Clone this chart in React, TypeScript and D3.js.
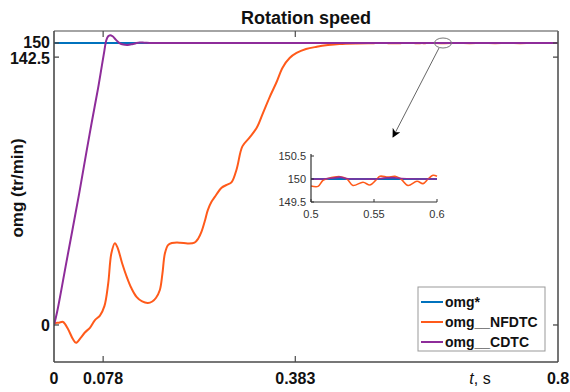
import React from "react";
import * as d3 from "d3";

const title = "Rotation speed";
const yLabel = "omg (tr/min)";
const xTicks = [0, 0.078, 0.383, 0.8];
const xTickLabels = ["0", "0.078", "0.383", "0.8"];
const yTicks = [0, 142.5, 150];
const yTickLabels = ["0", "142.5", "150"];
const seriesNames = ["omg*", "omg__NFDTC", "omg__CDTC"];
const seriesColors = ["#0072BD", "#FF5A1A", "#8E2C9A"];

// reference speed
const refT = [0, 0.8];
const refV = [150, 150];

// NFDTC (orange) transient
const nfT = [0, 0.0016, 0.008, 0.0143, 0.022, 0.03, 0.0349, 0.042, 0.049, 0.057, 0.065, 0.0729, 0.08, 0.086, 0.091, 0.0966, 0.101, 0.108, 0.1156, 0.123, 0.131, 0.14, 0.149, 0.156, 0.162, 0.168, 0.172, 0.176, 0.181, 0.187, 0.2, 0.212, 0.223, 0.229, 0.234, 0.24, 0.244, 0.25, 0.255, 0.266, 0.274, 0.282, 0.29, 0.299, 0.31, 0.322, 0.332, 0.342, 0.353, 0.363, 0.374, 0.385, 0.4, 0.417, 0.435, 0.453, 0.48, 0.5];
const nfV = [0, 1, 1.2, 1.6, -2, -7.5, -9.5, -7, -4, -1.5, 2.6, 5, 10, 22, 38, 43.5, 41, 33, 25.5, 19.5, 15, 12.5, 11.7, 12.5, 14.5, 18.6, 27, 38, 42.5, 43.6, 43.8, 43.4, 43.8, 46, 49.5, 56, 61, 65.5, 68, 73, 74.5, 76, 83, 95, 99.5, 105, 113, 121, 129, 137, 142, 144.7, 146.8, 148, 148.9, 149.5, 149.8, 149.85];
// NFDTC steady-state ripple (zoomed window and beyond)
const nfSsT = [0.5056, 0.5095, 0.5135, 0.523, 0.5286, 0.5333, 0.5413, 0.5468, 0.5516, 0.5548, 0.5611, 0.5667, 0.5714, 0.577, 0.5841, 0.5889, 0.5929, 0.5968, 0.6, 0.62, 0.64, 0.66, 0.68, 0.7, 0.72, 0.74, 0.76, 0.78, 0.8];
const nfSsV = [149.84, 149.97, 150.01, 150.05, 150.0, 149.86, 149.93, 149.87, 149.98, 150.06, 150.04, 150.06, 150.0, 149.86, 149.95, 149.9, 150.0, 150.08, 150.06, 149.93, 150.05, 149.92, 150.06, 149.94, 150.05, 149.93, 150.06, 149.95, 150.02];

// CDTC (purple)
const cdT = [0, 0.005, 0.02, 0.04, 0.052, 0.06, 0.07, 0.076, 0.08, 0.083, 0.086, 0.089, 0.093, 0.098, 0.104, 0.11, 0.117, 0.124, 0.13, 0.136, 0.143, 0.152, 0.165, 0.5, 0.51, 0.518, 0.523, 0.528, 0.54, 0.552, 0.558, 0.565, 0.572, 0.6, 0.8];
const cdV = [0, 7, 34, 70, 93, 108, 126, 138, 146, 151.5, 153.6, 154.2, 153.6, 151.8, 150, 149.2, 149, 149.4, 149.9, 150.25, 150.2, 150.05, 150, 150, 150, 150.02, 150.04, 150.01, 150, 150, 150.02, 150.03, 150.01, 150, 150];

const insetXTicks = [0.5, 0.55, 0.6];
const insetXTickLabels = ["0.5", "0.55", "0.6"];
const insetYTicks = [149.5, 150, 150.5];
const insetYTickLabels = ["149.5", "150", "150.5"];

const W = 570;
const H = 392;

export default function App() {
  const x = d3.scaleLinear().domain([0, 0.8]).range([54, 558]);
  const y = d3.scaleLinear().domain([-19.7, 156.4]).range([362, 31]);
  const [x0, x1] = x.range();
  const [y0, y1] = y.range();

  const zip = (t: number[], v: number[]) => t.map((tt, i) => [tt, v[i]] as [number, number]);
  const refData = zip(refT, refV);
  const nfData = zip(nfT, nfV).concat(zip(nfSsT, nfSsV));
  const cdData = zip(cdT, cdV);

  const line = d3
    .line<[number, number]>()
    .x((d) => x(d[0]))
    .y((d) => y(d[1]))
    .curve(d3.curveCatmullRom.alpha(0.5));

  // inset
  const ix = d3.scaleLinear().domain([0.5, 0.6]).range([311, 437]);
  const iy = d3.scaleLinear().domain([149.5, 150.5]).range([202, 156]);
  const iline = d3
    .line<[number, number]>()
    .x((d) => ix(d[0]))
    .y((d) => iy(d[1]))
    .curve(d3.curveCatmullRom.alpha(0.5));
  const inWin = (d: [number, number]) => d[0] >= 0.499 && d[0] <= 0.601;
  const nfInset = [[0.5, 149.85] as [number, number]].concat(zip(nfSsT, nfSsV).filter(inWin));
  const cdInset = cdData.filter(inWin);
  const refInset: [number, number][] = [[0.5, 150], [0.6, 150]];

  const axisColor = "#4a4a4a";
  const tickFont = "Liberation Sans, Arial, sans-serif";

  return (
    <svg width={W} height={H} style={{ position: "absolute", left: 0, top: 0, background: "#fff" }}>
      <defs>
        <clipPath id="plotClip">
          <rect x={x0} y={y1} width={x1 - x0} height={y0 - y1} />
        </clipPath>
        <marker id="arrowHead" viewBox="0 0 10 10" refX="9" refY="5" markerWidth="9" markerHeight="9" orient="auto-start-reverse">
          <path d="M0,0 L10,5 L0,10 L3,5 Z" fill="#000" />
        </marker>
      </defs>
      <rect x={0} y={0} width={W} height={H} fill="#fff" />

      {/* title */}
      <text x={306} y={24} textAnchor="middle" fontFamily={tickFont} fontWeight="bold" fontSize={18} fill="#111">
        {title}
      </text>

      {/* series */}
      <g clipPath="url(#plotClip)" fill="none" strokeLinejoin="round" strokeLinecap="round">
        <path d={line(refData) || ""} stroke={seriesColors[0]} strokeWidth={2} />
        <path d={line(nfData) || ""} stroke={seriesColors[1]} strokeWidth={2} />
        <path d={line(cdData) || ""} stroke={seriesColors[2]} strokeWidth={2} />
      </g>

      {/* axes box */}
      <line x1={x0} x2={x1} y1={y1} y2={y1} stroke={axisColor} strokeWidth={1.2} />
      <line x1={x1} x2={x1} y1={y1} y2={y0} stroke="#666" strokeWidth={1.8} />
      <line x1={x0} x2={x0} y1={y1} y2={y0} stroke={axisColor} strokeWidth={1.6} />
      <line x1={x0} x2={x1} y1={y0} y2={y0} stroke={axisColor} strokeWidth={1.6} />

      {/* x ticks */}
      {xTicks.map((t, i) => (
        <g key={"xt" + i}>
          {t > 0 && t < 0.8 && (
            <>
              <line x1={x(t)} x2={x(t)} y1={y0} y2={y0 - 6} stroke={axisColor} strokeWidth={1.2} />
              <line x1={x(t)} x2={x(t)} y1={y1} y2={y1 + 6} stroke={axisColor} strokeWidth={1.2} />
            </>
          )}
          <text x={x(t)} y={384} textAnchor="middle" fontFamily={tickFont} fontWeight="bold" fontSize={16} fill="#111">
            {xTickLabels[i]}
          </text>
        </g>
      ))}

      {/* y ticks */}
      {yTicks.map((v, i) => (
        <g key={"yt" + i}>
          <line x1={x0} x2={x0 + 5} y1={y(v)} y2={y(v)} stroke={axisColor} strokeWidth={1.3} />
          <line x1={x1} x2={x1 - 5} y1={y(v)} y2={y(v)} stroke={axisColor} strokeWidth={1.3} />
          <text x={50} y={y(v)} dy={v === 150 ? "0.28em" : "0.4em"} textAnchor="end" fontFamily={tickFont} fontWeight="bold" fontSize={16} fill="#111">
            {yTickLabels[i]}
          </text>
        </g>
      ))}

      {/* y label */}
      <text transform={`translate(23,188) rotate(-90)`} textAnchor="middle" fontFamily={tickFont} fontWeight="bold" fontSize={17} fill="#111">
        {yLabel}
      </text>

      {/* x label */}
      <text x={480} y={384} textAnchor="middle" fontFamily={tickFont} fontSize={16} fill="#111">
        <tspan fontStyle="italic">t</tspan>, s
      </text>

      {/* zoom ellipse and arrow */}
      <ellipse cx={443} cy={43} rx={8.5} ry={5} fill="none" stroke="#777" strokeWidth={1} />
      <line x1={439} y1={48} x2={393} y2={137} stroke="#666" strokeWidth={1} markerEnd="url(#arrowHead)" />

      {/* inset */}
      <g fill="none" strokeLinejoin="round">
        <path d={iline(refInset) || ""} stroke={seriesColors[0]} strokeWidth={2.2} />
        <path d={iline(nfInset) || ""} stroke={seriesColors[1]} strokeWidth={1.6} />
        <path d={iline(cdInset) || ""} stroke={seriesColors[2]} strokeWidth={1.6} />
      </g>
      <line x1={311} x2={311} y1={154} y2={202} stroke="#333" strokeWidth={1.2} />
      <line x1={311} x2={437} y1={202} y2={202} stroke="#333" strokeWidth={1.2} />
      {insetXTicks.map((t, i) => (
        <g key={"ixt" + i}>
          <line x1={ix(t)} x2={ix(t)} y1={202} y2={199} stroke="#333" strokeWidth={1} />
          <text x={ix(t)} y={218} textAnchor="middle" fontFamily={tickFont} fontSize={11} fill="#333">
            {insetXTickLabels[i]}
          </text>
        </g>
      ))}
      {insetYTicks.map((v, i) => (
        <g key={"iyt" + i}>
          <line x1={311} x2={314} y1={iy(v)} y2={iy(v)} stroke="#333" strokeWidth={1} />
          <text x={306} y={iy(v)} dy="0.35em" textAnchor="end" fontFamily={tickFont} fontSize={11} fill="#333">
            {insetYTickLabels[i]}
          </text>
        </g>
      ))}

      {/* legend */}
      <rect x={418} y={287} width={127} height={64} fill="#fff" stroke="#999" strokeWidth={1} />
      {seriesNames.map((n, i) => (
        <g key={"lg" + i}>
          <line x1={421} x2={443} y1={302 + i * 20} y2={302 + i * 20} stroke={seriesColors[i]} strokeWidth={2} />
          <text x={445} y={302 + i * 20} dy="0.35em" fontFamily={tickFont} fontWeight="bold" fontSize={14} fill="#111">
            {n}
          </text>
        </g>
      ))}
    </svg>
  );
}
